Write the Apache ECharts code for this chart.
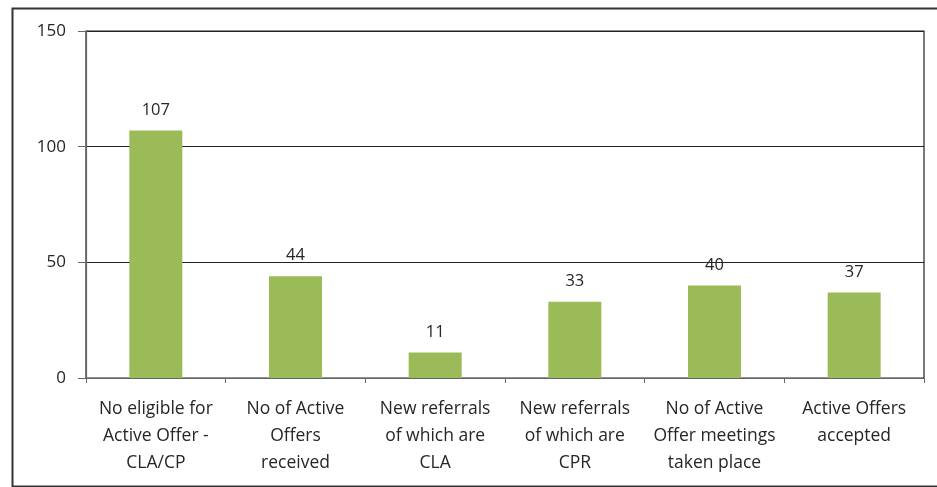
<!DOCTYPE html>
<html>
<head>
<meta charset="utf-8">
<script src="https://cdn.jsdelivr.net/npm/echarts@6/dist/echarts.min.js"></script>
<style>
  html, body { margin: 0; padding: 0; background: #fff; }
  #main { width: 937px; height: 487px; }
</style>
</head>
<body>
<div id="main"></div>
<script>
// 图表数据
var categories = [
  'No eligible for\nActive Offer -\nCLA/CP',
  'No of Active\nOffers\nreceived',
  'New referrals\nof which are\nCLA',
  'New referrals\nof which are\nCPR',
  'No of Active\nOffer meetings\ntaken place',
  'Active Offers\naccepted'
];
var values = [107, 44, 11, 33, 40, 37];
var yTicks = [0, 50, 100, 150];

var myChart = echarts.init(document.getElementById('main'));
var textFont = '"Open Sans", sans-serif';

var option = {
  animation: false,
  backgroundColor: '#fff',
  graphic: [{
    type: 'rect',
    left: 10, top: 6,
    shape: { width: 940, height: 478 },
    style: { fill: 'none', stroke: '#333', lineWidth: 2 },
    z: -1
  }],
  grid: {
    left: 86, right: 13, top: 31, bottom: 109,
    show: true, borderColor: '#222', borderWidth: 1.2
  },
  xAxis: {
    type: 'category',
    data: categories,
    axisLine: { lineStyle: { color: '#666', width: 1.2 } },
    axisTick: { show: true, length: 5, lineStyle: { color: '#666' } },
    axisLabel: {
      interval: 0, margin: 18,
      color: '#262626', fontSize: 17.5, lineHeight: 27,
      fontFamily: textFont
    }
  },
  yAxis: {
    type: 'value',
    min: yTicks[0], max: yTicks[yTicks.length - 1], interval: 50,
    axisLine: { show: true, lineStyle: { color: '#666', width: 1.2 } },
    axisTick: { show: true, length: 8, lineStyle: { color: '#666' } },
    splitLine: { lineStyle: { color: '#222', width: 1.2 } },
    axisLabel: { color: '#262626', fontSize: 17, margin: 20, fontFamily: textFont }
  },
  series: [{
    type: 'bar',
    data: values,
    barWidth: 53,
    itemStyle: { color: '#9BBB59' },
    label: {
      show: true, position: 'top', distance: 12,
      color: '#262626', fontSize: 16.5, fontFamily: textFont
    }
  }]
};

myChart.setOption(option);
</script>
</body>
</html>
